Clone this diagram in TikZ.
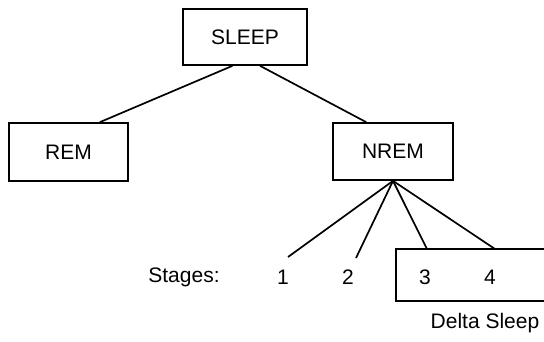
\documentclass[tikz,border=0pt]{standalone}
\usepackage{fontspec}
\setmainfont{Liberation Sans}
\usetikzlibrary{calc}
\begin{document}
\begin{tikzpicture}[x=1pt,y=-1pt,
  box/.style={draw,line width=1.7pt,inner sep=0pt,font=\fontsize{21}{25}\selectfont},
  lbl/.style={inner sep=0pt,font=\fontsize{21}{25}\selectfont},
  conn/.style={line width=1.7pt}]
\useasboundingbox (0,0) rectangle (544,341);
\node[box,minimum width=124pt,minimum height=56pt] (sleep) at (245,37) {SLEEP};
\node[box,minimum width=119pt,minimum height=58pt] (rem) at (68.5,152) {REM};
\node[box,minimum width=120pt,minimum height=57pt] (nrem) at (393,151.5) {NREM};
\node[box,minimum width=170pt,minimum height=52pt] (delta) at (481,275) {};
\node[lbl] (stages) at (184,277) {Stages:};
\node[lbl] (s1) at (283,277) {1};
\node[lbl] (s2) at (348,277) {2};
\node[lbl] (s3) at (425,277) {3};
\node[lbl] (s4) at (490,277) {4};
\node[lbl] (deltalbl) at (485,323) {Delta Sleep};
\coordinate (e1) at (288,257);
\coordinate (e2) at (356,258);
\coordinate (e3) at (427,249);
\coordinate (e4) at (495,249);
\draw[conn] ($(sleep.south west)!0.4!(sleep.south east)$) -- ($(rem.north west)!0.76!(rem.north east)$);
\draw[conn] ($(sleep.south west)!0.62!(sleep.south east)$) -- ($(nrem.north west)!0.28!(nrem.north east)$);
\draw[conn] (nrem.south) -- (e1);
\draw[conn] (nrem.south) -- (e2);
\draw[conn] (nrem.south) -- (e3);
\draw[conn] (nrem.south) -- (e4);
\end{tikzpicture}
\end{document}
